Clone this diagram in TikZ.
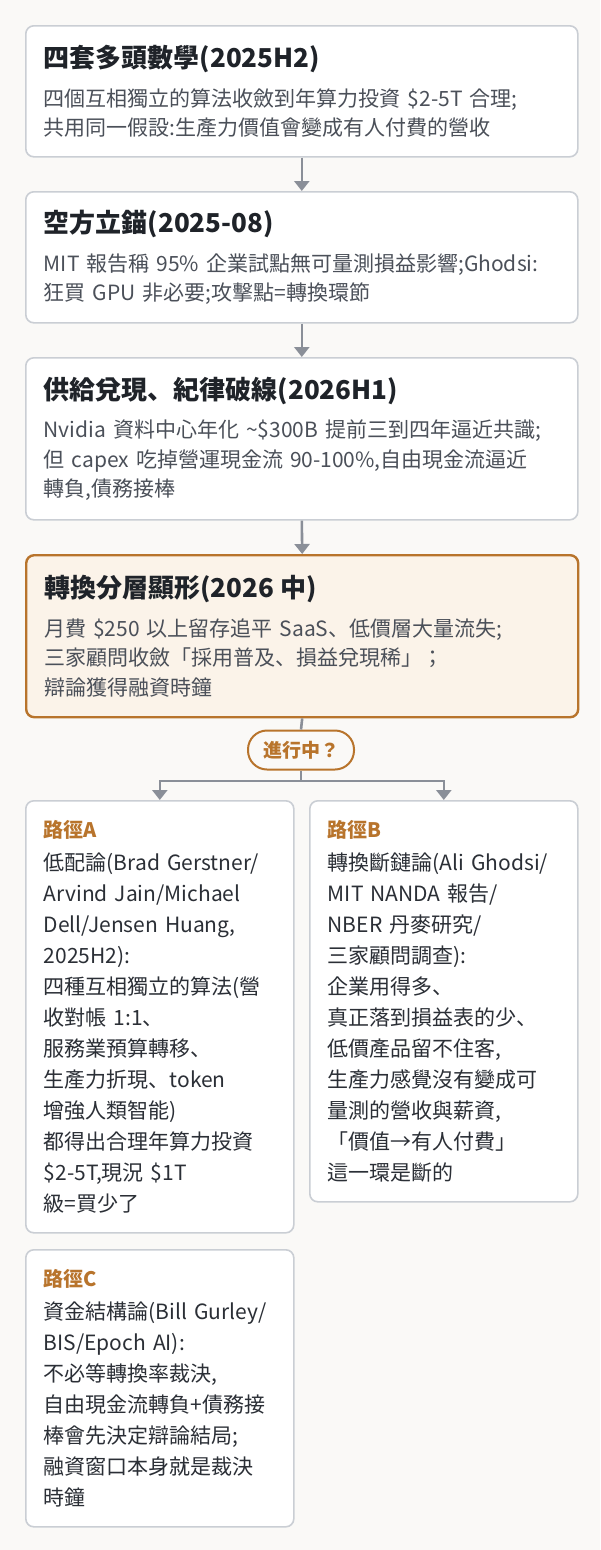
\documentclass[tikz,border=0pt]{standalone}
\usepackage{fontspec}
\setmainfont{Noto Sans CJK JP}
\usetikzlibrary{arrows.meta}

\definecolor{pagebg}{HTML}{FAF9F7}
\definecolor{frame}{HTML}{CACED4}
\definecolor{ink}{HTML}{1F2329}
\definecolor{grayink}{HTML}{4B5059}
\definecolor{darkink}{HTML}{2B2F36}
\definecolor{amber}{HTML}{B8742C}
\definecolor{amberbg}{HTML}{FBF3E9}
\definecolor{wire}{HTML}{8A8F98}

\newcommand{\stagetitle}{\fontsize{26}{30}\selectfont\bfseries\color{ink}}
\newcommand{\stagebody}{\fontsize{21}{29.5}\selectfont\color{grayink}}
\newcommand{\pathtitle}{\fontsize{20}{31}\selectfont\bfseries\color{amber}}
\newcommand{\pathbody}{\fontsize{21}{31}\selectfont\color{darkink}}

\tikzset{
	stage/.style={draw=frame, line width=1.6pt, fill=white, rounded corners=8pt, anchor=north west, text width=516pt, inner xsep=18pt, inner ysep=0pt, align=left, font=\stagebody},
	hot/.style={stage, draw=amber, line width=2.4pt, fill=amberbg},
	branch/.style={stage, text width=232pt, font=\pathbody},
	ask/.style={draw=amber, line width=2pt, fill=pagebg, rounded corners=19pt, minimum width=106pt, minimum height=39pt, inner sep=0pt, font=\fontsize{19}{22}\selectfont\bfseries\color{amber}},
	flow/.style={wire, line width=2.6pt, -{Triangle[width=15pt,length=10pt]}},
	feed/.style={wire, line width=2.6pt}
}

\begin{document}
\begin{tikzpicture}[x=1pt, y=-1pt]

		\fill[pagebg] (0,0) rectangle (600,1550);
		\useasboundingbox (0,0) rectangle (600,1550);

		\coordinate (P1) at (25,25);
		\coordinate (P2) at (25,191);
		\coordinate (P3) at (25,357);
		\coordinate (P4) at (25,554);
		\coordinate (PA) at (25,800);
		\coordinate (PB) at (309,800);
		\coordinate (PC) at (25,1249);
		\coordinate (split) at (301,781);

		% timeline
		\node[stage, minimum height=131pt] (s1) at (P1) {{\stagetitle 四套多頭數學(2025H2)}\\[9pt]
			四個互相獨立的算法收斂到年算力投資 \$2-5T 合理;\\
			共用同一假設:生產力價值會變成有人付費的營收};
		\node[stage, minimum height=131pt] (s2) at (P2) {{\stagetitle 空方立錨(2025-08)}\\[9pt]
			MIT 報告稱 95\% 企業試點無可量測損益影響;Ghodsi:\\
			狂買 GPU 非必要;攻擊點=轉換環節};
		\node[stage, minimum height=162pt] (s3) at (P3) {{\stagetitle 供給兌現、紀律破線(2026H1)}\\[9pt]
			Nvidia 資料中心年化 \textasciitilde\$300B 提前三到四年逼近共識;\\
			但 capex 吃掉營運現金流 90-100\%,自由現金流逼近\\
			轉負,債務接棒};
		\node[hot, minimum height=162pt] (s4) at (P4) {{\stagetitle 轉換分層顯形(2026 中)}\\[9pt]
			月費 \$250 以上留存追平 SaaS、低價層大量流失;\\
			三家顧問收斂「採用普及、損益兌現稀」；\\
			辯論獲得融資時鐘};

		\node[ask] (q) at (301,750) {進行中？};

		% paths
		\node[branch, minimum height=432pt] (pa) at (PA) {{\pathtitle 路徑A}\\[2.5pt]
			低配論(Brad Gerstner/\\
			Arvind Jain/Michael\\
			Dell/Jensen Huang,\\
			2025H2):\\
			四種互相獨立的算法(營\\
			收對帳 1:1、\\
			服務業預算轉移、\\
			生產力折現、token\\
			增強人類智能)\\
			都得出合理年算力投資\\
			\$2-5T,現況 \$1T\\
			級=買少了};
		\node[branch, minimum height=401pt] (pb) at (PB) {{\pathtitle 路徑B}\\[2.5pt]
			轉換斷鏈論(Ali Ghodsi/\\
			MIT NANDA 報告/\\
			NBER 丹麥研究/\\
			三家顧問調查):\\
			企業用得多、\\
			真正落到損益表的少、\\
			低價產品留不住客,\\
			生產力感覺沒有變成可\\
			量測的營收與薪資,\\
			「價值→有人付費」\\
			這一環是斷的};
		\node[branch, minimum height=277pt] (pc) at (PC) {{\pathtitle 路徑C}\\[2.5pt]
			資金結構論(Bill Gurley/\\
			BIS/Epoch AI):\\
			不必等轉換率裁決,\\
			自由現金流轉負+債務接\\
			棒會先決定辯論結局;\\
			融資窗口本身就是裁決\\
			時鐘};

		\draw[flow] (s1.south) -- (s2.north);
		\draw[flow] (s2.south) -- (s3.north);
		\draw[flow] (s3.south) -- (s4.north);
		\draw[feed] (s4.south) -- (q.north);
		\draw[feed] (q.south) -- (split);
		\draw[flow] (split) -| (pa.north);
		\draw[flow] (split) -| (pb.north);

\end{tikzpicture}
\end{document}
